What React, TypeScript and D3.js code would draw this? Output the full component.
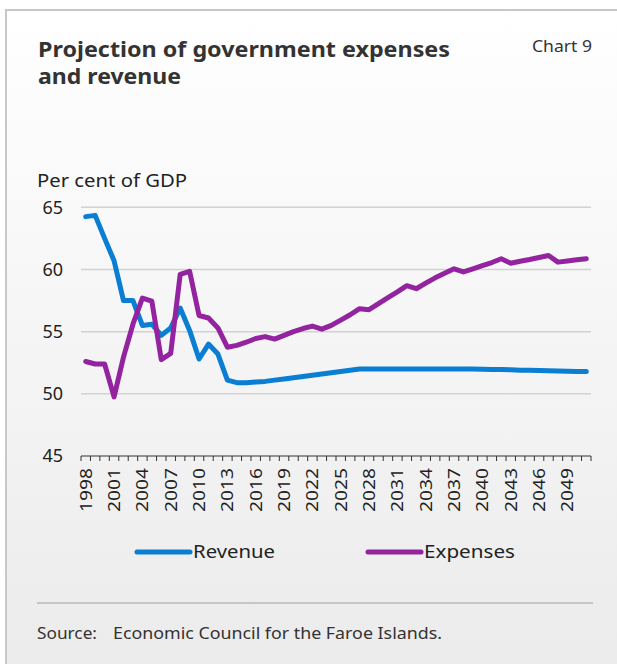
import React from "react";
import * as d3 from "d3";

const years: number[] = d3.range(1998, 2052);
const revenue: number[] = [
  64.25, 64.35, 62.5, 60.7, 57.5, 57.5, 55.5, 55.6, 54.7, 55.3,
  56.9, 55.1, 52.8, 54.0, 53.2, 51.1, 50.9, 50.9, 50.95, 51.0,
  51.1, 51.2, 51.3, 51.4, 51.5, 51.6, 51.7, 51.8, 51.9, 52.0,
  52.0, 52.0, 52.0, 52.0, 52.0, 52.0, 52.0, 52.0, 52.0, 52.0,
  52.0, 52.0, 51.97, 51.95, 51.95, 51.93, 51.9, 51.9, 51.88, 51.85,
  51.83, 51.82, 51.8, 51.8,
];
const expenses: number[] = [
  52.6, 52.4, 52.4, 49.75, 52.95, 55.6, 57.7, 57.45, 52.75, 53.25,
  59.6, 59.85, 56.3, 56.1, 55.3, 53.75, 53.9, 54.15, 54.45, 54.6,
  54.4, 54.7, 55.0, 55.25, 55.45, 55.2, 55.5, 55.93, 56.36, 56.85,
  56.77, 57.25, 57.73, 58.2, 58.7, 58.45, 58.9, 59.33, 59.7, 60.05,
  59.8, 60.05, 60.3, 60.56, 60.86, 60.5, 60.66, 60.8, 60.96, 61.12,
  60.59, 60.68, 60.78, 60.86,
];
const yTicks: number[] = [45, 50, 55, 60, 65];
const xLabelYears: number[] = years.filter((y) => (y - 1998) % 3 === 0 && y <= 2049);

const series = [
  { name: "Revenue", values: revenue, color: "#0a7ed2", lx: 137, len: 82 },
  { name: "Expenses", values: expenses, color: "#93239f", lx: 368, len: 91 },
];

export default function App() {
  const W = 617;
  const H = 664;
  const x = d3.scaleBand<number>().domain(years).range([81, 591]);
  const y = d3.scaleLinear().domain([45, 65]).range([456, 207.3]);
  const line = (vals: number[]) =>
    d3
      .line<number>()
      .x((_, i) => (x(years[i]) as number) + x.bandwidth() / 2)
      .y((v) => y(v))(vals) as string;
  const font = "'Noto Sans', 'Open Sans', sans-serif";
  const boundaries = years.map((yr) => x(yr) as number).concat([x.range()[1]]);
  const adj = "spacingAndGlyphs";

  return (
    <svg
      width={W}
      height={H}
      style={{ position: "absolute", left: 0, top: 0 }}
      fontFamily={font}
    >
      <defs>
        <linearGradient id="bg" x1="0" y1="0" x2="0" y2="1">
          <stop offset="0" stopColor="#ffffff" />
          <stop offset="1" stopColor="#ebebeb" />
        </linearGradient>
      </defs>
      <rect x={0} y={0} width={W} height={H} fill="#ffffff" />
      <rect x={6} y={10} width={W} height={H} fill="url(#bg)" stroke="#c8c8c8" strokeWidth={2} />
      <text x={38} y={57} fontSize={22} fontWeight="bold" fill="#333" textLength={412} lengthAdjust={adj}>
        Projection of government expenses
      </text>
      <text x={38} y={84} fontSize={22} fontWeight="bold" fill="#333" textLength={143} lengthAdjust={adj}>
        and revenue
      </text>
      <text x={532} y={52} fontSize={16} fill="#333" textLength={60} lengthAdjust={adj}>
        Chart 9
      </text>
      <text x={37} y={187} fontSize={17.5} fill="#222" textLength={150} lengthAdjust={adj}>
        Per cent of GDP
      </text>
      {yTicks.map((t) => (
        <g key={t}>
          {t !== 45 && (
            <line x1={81} x2={591} y1={y(t)} y2={y(t)} stroke="#d2d2d2" strokeWidth={1.5} />
          )}
          <text x={63} y={y(t)} dy="0.35em" fontSize={18} textAnchor="end" fill="#222">
            {t}
          </text>
        </g>
      ))}
      <line x1={81} x2={591} y1={456} y2={456} stroke="#333" strokeWidth={1.2} />
      {boundaries.map((b, i) => (
        <line key={i} x1={b} x2={b} y1={456} y2={461} stroke="#333" strokeWidth={1} />
      ))}
      {xLabelYears.map((yr) => {
        const cx = (x(yr) as number) + x.bandwidth() / 2;
        return (
          <text
            key={yr}
            transform={`translate(${cx},512) rotate(-90)`}
            dy="0.35em"
            fontSize={17}
            fill="#222"
            textLength={44}
            lengthAdjust={adj}
          >
            {yr}
          </text>
        );
      })}
      {series.map((s) => (
        <path
          key={s.name}
          d={line(s.values)}
          fill="none"
          stroke={s.color}
          strokeWidth={5}
          strokeLinejoin="round"
          strokeLinecap="round"
        />
      ))}
      {series.map((s) => (
        <g key={s.name}>
          <line x1={s.lx} x2={s.lx + 53} y1={552} y2={552} stroke={s.color} strokeWidth={5} strokeLinecap="round" />
          <text x={s.lx + 56} y={552} dy="0.35em" fontSize={18} fill="#222" textLength={s.len} lengthAdjust={adj}>
            {s.name}
          </text>
        </g>
      ))}
      <line x1={37} x2={593} y1={603} y2={603} stroke="#b8b8b8" strokeWidth={1.5} />
      <text x={37} y={639} fontSize={15.5} fill="#333" textLength={60} lengthAdjust={adj}>
        Source:
      </text>
      <text x={113} y={639} fontSize={15.5} fill="#333" textLength={329} lengthAdjust={adj}>
        Economic Council for the Faroe Islands.
      </text>
    </svg>
  );
}
